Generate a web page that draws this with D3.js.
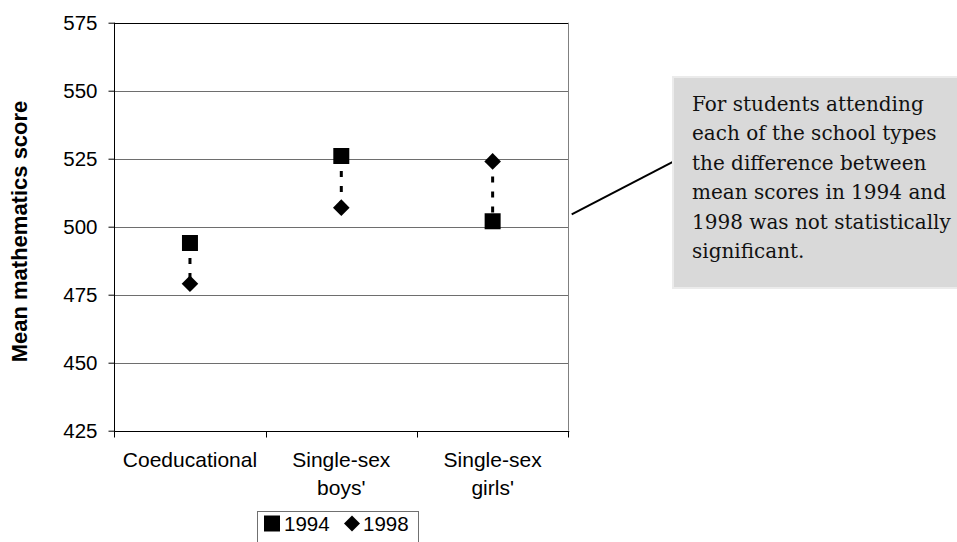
<!DOCTYPE html>
<html>
<head>
<meta charset="utf-8">
<script src="https://cdn.jsdelivr.net/npm/d3@7"></script>
<style>
  html, body { margin: 0; padding: 0; background: #fff; overflow: hidden; }
  svg { display: block; }
  text { font-family: Arial, "Liberation Sans", sans-serif; fill: #000; }
  text.note { font-family: "DejaVu Serif", serif; fill: #111; }
</style>
</head>
<body>
<svg id="chart" width="957" height="542"></svg>
<script>
// School types on the x axis
const categories = ["Coeducational", "Single-sex boys'", "Single-sex girls'"];
const categoryLines = [["Coeducational"], ["Single-sex", "boys'"], ["Single-sex", "girls'"]];
// Mean mathematics scores per survey year
const scores1994 = [494, 526, 502];
const scores1998 = [479, 507, 524];
const years = ["1994", "1998"];
// Y axis ticks
const yTicks = [425, 450, 475, 500, 525, 550, 575];
const yLabel = "Mean mathematics score";
const noteLines = [
  "For students attending",
  "each of the school types",
  "the difference between",
  "mean scores in 1994 and",
  "1998 was not statistically",
  "significant."
];

const svg = d3.select("#chart");
const plotLeft = 114.3, plotRight = 568.3, plotTop = 22.7, plotBottom = 430.7;

const x = d3.scaleBand().domain(categories).range([plotLeft, plotRight]).padding(0);
const y = d3.scaleLinear().domain([425, 575]).range([plotBottom, plotTop]);

// Horizontal gridlines
svg.append("g").selectAll("line")
  .data(yTicks.filter(v => v !== 425 && v !== 575))
  .join("line")
  .attr("x1", plotLeft).attr("x2", plotRight)
  .attr("y1", d => Math.round(y(d)) + 0.5).attr("y2", d => Math.round(y(d)) + 0.5)
  .attr("stroke", "#6e6e6e").attr("stroke-width", 1);

// Plot frame: black top line, grey right edge
svg.append("line")
  .attr("x1", plotLeft).attr("x2", plotRight)
  .attr("y1", Math.round(y(575)) + 0.5).attr("y2", Math.round(y(575)) + 0.5)
  .attr("stroke", "#000");
svg.append("line")
  .attr("x1", Math.round(plotRight) + 0.5).attr("x2", Math.round(plotRight) + 0.5)
  .attr("y1", y(575)).attr("y2", y(425))
  .attr("stroke", "#808080");

// Y axis
const yAxis = d3.axisLeft(y).tickValues(yTicks).tickSize(6).tickPadding(11).tickFormat(d3.format("d"));
const gy = svg.append("g").attr("transform", `translate(${Math.round(plotLeft) + 0.5},0)`).call(yAxis);
gy.selectAll("path, line").attr("stroke", "#000");
gy.select(".domain").attr("d", `M0,${y(575)}V${y(425) + 1}`);
gy.selectAll("text").attr("font-size", 20.5).attr("font-family", null).attr("fill", "#000");

// X axis with ticks at category boundaries
const gx = svg.append("g");
const by = Math.round(y(425)) + 0.5;
gx.append("line").attr("x1", plotLeft).attr("x2", plotRight + 1).attr("y1", by).attr("y2", by).attr("stroke", "#000");
const edges = categories.map(c => x(c)).concat([x(categories[categories.length - 1]) + x.bandwidth()]);
gx.selectAll("line.tick").data(edges).join("line")
  .attr("class", "tick")
  .attr("x1", d => Math.round(d) + 0.5).attr("x2", d => Math.round(d) + 0.5)
  .attr("y1", by).attr("y2", by + 6).attr("stroke", "#000");
categories.forEach((c, i) => {
  const t = gx.append("text")
    .attr("text-anchor", "middle")
    .attr("font-size", 21)
    .attr("x", x(c) + x.bandwidth() / 2)
    .attr("y", 467);
  categoryLines[i].forEach((ln, j) => {
    t.append("tspan").attr("x", x(c) + x.bandwidth() / 2).attr("dy", j === 0 ? 0 : 28).text(ln);
  });
});

// Y axis title
svg.append("text")
  .attr("transform", `translate(27,231.5) rotate(-90)`)
  .attr("text-anchor", "middle")
  .attr("font-size", 22)
  .attr("font-weight", "bold")
  .text(yLabel);

// Dashed connectors between the two years
const pairs = categories.map((c, i) => ({ c, a: scores1994[i], b: scores1998[i] }));
svg.append("g").selectAll("line").data(pairs).join("line")
  .attr("x1", d => x(d.c) + x.bandwidth() / 2)
  .attr("x2", d => x(d.c) + x.bandwidth() / 2)
  .attr("y1", d => y(Math.max(d.a, d.b)))
  .attr("y2", d => y(Math.min(d.a, d.b)))
  .attr("stroke", "#000").attr("stroke-width", 3)
  .attr("stroke-dasharray", "6,9");

const sq = d3.symbol().type(d3.symbolSquare).size(256);
const diamondPath = s => `M0,${-s}L${s},0L0,${s}L${-s},0Z`;

// 1994 markers
svg.append("g").selectAll("path").data(pairs).join("path")
  .attr("d", sq)
  .attr("transform", d => `translate(${x(d.c) + x.bandwidth() / 2},${y(d.a)})`)
  .attr("fill", "#000");
// 1998 markers
svg.append("g").selectAll("path").data(pairs).join("path")
  .attr("d", diamondPath(8.3))
  .attr("transform", d => `translate(${x(d.c) + x.bandwidth() / 2},${y(d.b)})`)
  .attr("fill", "#000");

// Legend
const lg = svg.append("g");
lg.append("rect").attr("x", 257.5).attr("y", 511.5).attr("width", 161).attr("height", 40)
  .attr("fill", "#fff").attr("stroke", "#707070");
lg.append("path").attr("d", sq).attr("transform", "translate(272,523.5)").attr("fill", "#000");
lg.append("text").attr("x", 284).attr("y", 531).attr("font-size", 20.5).text(years[0]);
lg.append("path").attr("d", diamondPath(8)).attr("transform", "translate(352,523.5)").attr("fill", "#000");
lg.append("text").attr("x", 363).attr("y", 531).attr("font-size", 20.5).text(years[1]);

// Callout note
svg.append("line")
  .attr("x1", 571.7).attr("y1", 214.3).attr("x2", 673.3).attr("y2", 161.7)
  .attr("stroke", "#000").attr("stroke-width", 2);
svg.append("rect").attr("x", 673).attr("y", 77).attr("width", 300).attr("height", 211)
  .attr("fill", "#d9d9d9").attr("stroke", "#ebebeb").attr("stroke-width", 2);
const note = svg.append("text")
  .attr("class", "note")
  .attr("font-size", 20);
noteLines.forEach((ln, i) => {
  note.append("tspan").attr("x", 692).attr("y", 110.5 + i * 29.5).text(ln);
});
</script>
</body>
</html>
